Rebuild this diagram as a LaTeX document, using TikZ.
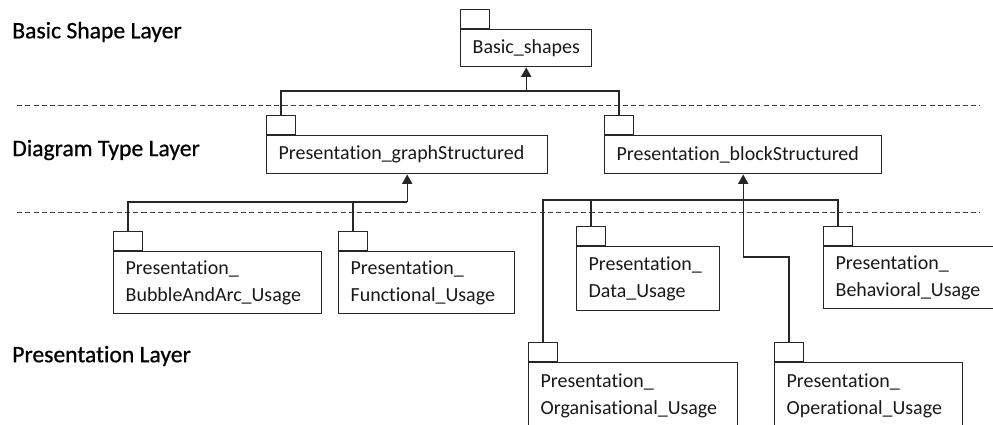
\documentclass[tikz,border=0pt]{standalone}
\usepackage{fontspec}
\setmainfont{Carlito}[Ligatures={NoCommon,NoDiscretionary,NoRare}]
\newfontfamily\lyrfont{Carlito}[FakeBold=0.7,Ligatures={NoCommon,NoDiscretionary,NoRare}]
\usetikzlibrary{arrows.meta}

\tikzset{
  px/.style={x=0.025cm,y=-0.025cm},
  lyr/.style={anchor=west,inner sep=0pt,font=\lyrfont\fontsize{16.8}{20}\selectfont,text=black},
  pkg/.style={draw=black!85,line width=1pt,anchor=north west,inner xsep=8.5pt,inner ysep=0pt,
    align=left,font=\fontsize{14.2}{19.2}\selectfont,text=black!90},
  tab/.style={draw=black!85,line width=1pt,anchor=south west,inner sep=0pt,
    minimum width=20.6pt,minimum height=13.5pt},
  layerline/.style={black!75,line width=1pt,dash pattern=on 3.6pt off 2.3pt},
  link/.style={black!85,line width=1pt},
  gen/.style={link,-{Triangle[width=7.2pt,length=6.8pt]}}
}

% package: name, x, y (top of body), width, height, text
\newcommand{\umlpkg}[6]{%
  \node[pkg,minimum width=#4*0.025cm,minimum height=#5*0.025cm,
        text width=#4*0.025cm-17pt] (#1) at (#2,#3) {#6};
  \node[tab] (#1-tab) at (#1.north west) {};
}

\begin{document}
\begin{tikzpicture}[px]
\useasboundingbox (0,0) rectangle (993,424);
\begin{scope}
\clip (0,0) rectangle (993,424);

% layer separators
\draw[layerline] (17,105.5) -- (980,105.5);
\draw[layerline] (17,212.5) -- (980,212.5);

% layer names
\node[lyr] (l1) at (12,32) {Basic Shape Layer};
\node[lyr] (l2) at (12,150) {Diagram Type Layer};
\node[lyr] (l3) at (12,356) {Presentation Layer};

% packages
\umlpkg{bs}{460}{29}{131}{37}{Basic\_shapes}
\umlpkg{gs}{266}{135}{281}{38}{Presentation\_graphStructured}
\umlpkg{bk}{604}{135}{277}{38}{Presentation\_blockStructured}
\umlpkg{bub}{113}{251}{208}{62}{Presentation\_\\BubbleAndArc\_Usage}
\umlpkg{fun}{338}{251}{176}{62}{Presentation\_\\Functional\_Usage}
\umlpkg{data}{576}{246}{143}{64}{Presentation\_\\Data\_Usage}
\umlpkg{beh}{823}{246}{180}{62}{Presentation\_\\Behavioral\_Usage}
\umlpkg{org}{528}{362}{209}{66}{Presentation\_\\Organisational\_Usage}
\umlpkg{op}{774}{362}{188}{66}{Presentation\_\\Operational\_Usage}

% generalisations to Basic_shapes
\coordinate (j1) at (bs.south |- 0,91);
\draw[link] (gs-tab.north) |- (j1) -| (bk-tab.north);
\draw[gen] (j1) -- (bs.south);

% generalisations to Presentation_graphStructured
\coordinate (j2) at (gs.south |- 0,202);
\draw[link] (bub-tab.north) |- (j2);
\draw[link] (fun-tab.north) -- (fun-tab.north |- j2);
\draw[gen] (j2) -- (gs.south);

% generalisations to Presentation_blockStructured
\coordinate (j3) at (beh-tab.north |- 0,200);
\draw[link] (org-tab.north) |- (j3) -- (beh-tab.north);
\draw[link] (data-tab.north) -- (data-tab.north |- j3);
\coordinate (j4) at (bk.south |- 0,257);
\draw[gen] (op-tab.north) |- (j4) -- (bk.south);
\end{scope}
\end{tikzpicture}
\end{document}
